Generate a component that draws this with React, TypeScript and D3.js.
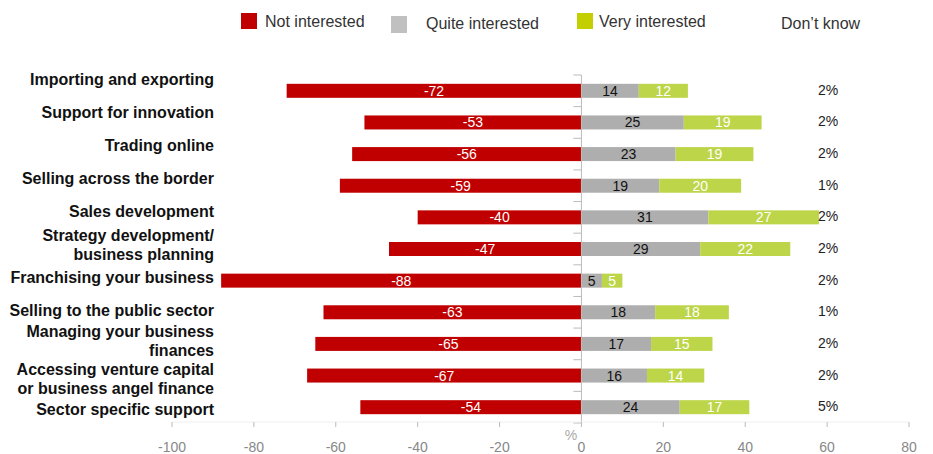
import React from "react";
import * as d3 from "d3";

const categories = [
  "Importing and exporting",
  "Support for innovation",
  "Trading online",
  "Selling across the border",
  "Sales development",
  "Strategy development/\nbusiness planning",
  "Franchising your business",
  "Selling to the public sector",
  "Managing your business\nfinances",
  "Accessing venture capital\nor business angel finance",
  "Sector specific support",
];
const notInterested = [-72, -53, -56, -59, -40, -47, -88, -63, -65, -67, -54];
const quiteInterested = [14, 25, 23, 19, 31, 29, 5, 18, 17, 16, 24];
const veryInterested = [12, 19, 19, 20, 27, 22, 5, 18, 15, 14, 17];
const dontKnow = [2, 2, 2, 1, 2, 2, 2, 1, 2, 2, 5];
const xTicks = [-100, -80, -60, -40, -20, 0, 20, 40, 60, 80];
const legendItems = ["Not interested", "Quite interested", "Very interested", "Don\u2019t know"];

const RED = "#C00000";
const GRAY = "#AEAEAE";
const GREEN = "#BDD549";
const FONT = "Liberation Sans, Arial, sans-serif";

export default function App() {
  const W = 933, H = 454;
  const x = d3.scaleLinear().domain([-100, 80]).range([172, 909]);
  const y = d3.scaleBand<number>().domain(d3.range(categories.length)).range([75, 423]);
  const yLabel = d3.scaleBand<number>().domain(d3.range(categories.length)).range([62.5, 425.5]);
  const barH = 14;
  const axisBottom = 422;
  const x0 = x(0);

  // Label layout: evenly spaced, then push apart overlapping multi-line labels
  const lh = 19;
  const labelLines = categories.map((c) => c.split("\n"));
  const centers = categories.map((_, i) => (yLabel(i) as number) + yLabel.bandwidth() / 2);
  for (let iter = 0; iter < 10; iter++) {
    for (let i = 0; i < centers.length - 1; i++) {
      const need = (labelLines[i].length * lh + labelLines[i + 1].length * lh) / 2;
      const have = centers[i + 1] - centers[i];
      if (have < need) {
        const d = (need - have) / 2;
        centers[i] -= d;
        centers[i + 1] += d;
      }
    }
  }

  return (
    <div style={{ position: "absolute", left: 0, top: 0 }}>
      <svg width={W} height={H} style={{ display: "block", fontFamily: FONT }}>
        <rect width={W} height={H} fill="#fff" />
        {/* Legend */}
        <g>
          <rect x={241} y={13} width={16} height={16} fill={RED} />
          <text x={265} y={27} fontSize={16} fill="#333">{legendItems[0]}</text>
          <rect x={391} y={16} width={16} height={17} fill="#C0C0C0" />
          <text x={426} y={29} fontSize={16} fill="#333">{legendItems[1]}</text>
          <rect x={577} y={13} width={16} height={16} fill="#C3CF00" />
          <text x={599} y={27} fontSize={16} fill="#333">{legendItems[2]}</text>
          <text x={781} y={29} fontSize={16} fill="#333">{legendItems[3]}</text>
        </g>

        {/* Bars */}
        {categories.map((c, i) => {
          const yc = (y(i) as number) + y.bandwidth() / 2;
          const yb = yc - barH / 2;
          const q0 = x0, q1 = x(quiteInterested[i]);
          const v1 = x(quiteInterested[i] + veryInterested[i]);
          const r0 = x(notInterested[i]);
          return (
            <g key={c}>
              <rect x={r0} y={yb} width={x0 - r0} height={barH} fill={RED} />
              <rect x={q0} y={yb} width={q1 - q0} height={barH} fill={GRAY} />
              <rect x={q1} y={yb} width={v1 - q1} height={barH} fill={GREEN} />
              <text x={(r0 + x0) / 2} y={yc + 5} fontSize={14} fill="#fff" textAnchor="middle">{notInterested[i]}</text>
              <text x={(q0 + q1) / 2} y={yc + 5} fontSize={14} fill="#111" textAnchor="middle">{quiteInterested[i]}</text>
              <text x={(q1 + v1) / 2} y={yc + 5} fontSize={14} fill="#fff" textAnchor="middle">{veryInterested[i]}</text>
              <text x={828} y={yc + 4} fontSize={14} fill="#222" textAnchor="middle">{dontKnow[i] + "%"}</text>
            </g>
          );
        })}

        {/* Vertical axis at 0 */}
        <line x1={x0} x2={x0} y1={75} y2={axisBottom + 1} stroke="#BBBBBB" strokeWidth={1} />
        {d3.range(categories.length + 1).map((i) => {
          const yy = 75 + i * y.step();
          return <line key={i} x1={x0 - 8} x2={x0} y1={yy} y2={yy} stroke="#BBBBBB" strokeWidth={1} />;
        })}

        {/* Category labels */}
        {categories.map((c, i) => {
          const lines = labelLines[i];
          const start = centers[i] - ((lines.length - 1) * lh) / 2 + 6;
          return (
            <text key={c} x={214} fontSize={16} fontWeight="bold" fill="#111" textAnchor="end">
              {lines.map((l, k) => (
                <tspan key={k} x={214} y={start + k * lh}>{l}</tspan>
              ))}
            </text>
          );
        })}

        {/* Horizontal axis */}
        <line x1={x(-100)} x2={x(80)} y1={axisBottom} y2={axisBottom} stroke="#F0F0F0" strokeWidth={1} />
        {xTicks.map((t) => (
          <g key={t}>
            <line x1={x(t)} x2={x(t)} y1={axisBottom} y2={axisBottom + 5} stroke="#BBBBBB" strokeWidth={1} />
            <text x={x(t)} y={452} fontSize={14} fill="#888" textAnchor="middle">{t}</text>
          </g>
        ))}
        <text x={571} y={440} fontSize={14} fill="#AAAAAA" textAnchor="middle">%</text>
      </svg>
    </div>
  );
}
